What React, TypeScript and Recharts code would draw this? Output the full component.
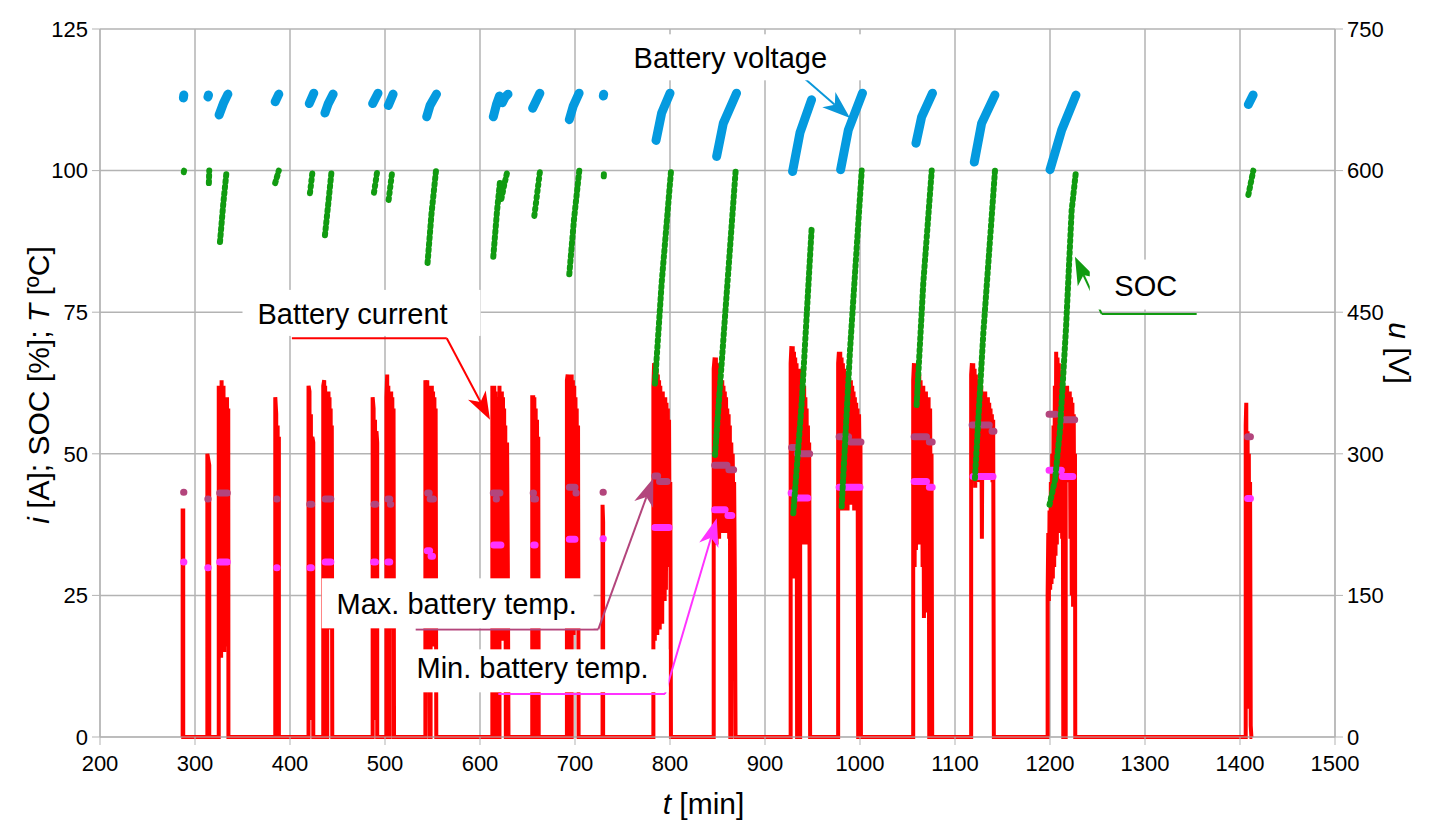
import React from "react";
import {
  ComposedChart,
  Line,
  XAxis,
  YAxis,
  CartesianGrid,
  ReferenceLine,
  ReferenceDot,
} from "recharts";

// t [min] ticks and the two value axes
const timeTicks = [200, 300, 400, 500, 600, 700, 800, 900, 1000, 1100, 1200, 1300, 1400, 1500];
const leftTicks = [0, 25, 50, 75, 100, 125];
const rightTicks = [0, 150, 300, 450, 600, 750];

// battery current i [A] as [t, i]
const currentPoints: [number, number][] = [
  [287, 0], [287, 40], [287.6, 40], [287.6, 0],
  [313, 0], [313, 50], [315, 48], [315, 0],
  [325, 0], [325, 62], [326, 60], [326.5, 16], [327, 62], [327.5, 14], [328, 63], [328.5, 20], [329, 62], [329.5, 16],
  [330, 62], [330.8, 15], [331.3, 60], [332, 18], [332.5, 60], [333.2, 16], [333.7, 60], [334.5, 20], [335, 58], [335.2, 0],
  [384.5, 0], [384.5, 60], [385.5, 57], [386, 3], [387, 55], [387.5, 3], [388.3, 53], [388.3, 0],
  [419.5, 0], [419.5, 62], [420.5, 61], [421, 3], [422, 57], [422.5, 3], [423.5, 53], [424.5, 52], [424.5, 0],
  [435, 0], [435, 62], [436, 63], [436.5, 20], [437, 62], [437.5, 18], [438, 61], [438.5, 0], [439.2, 0], [439.2, 61],
  [439.8, 20], [440.5, 61], [441, 19], [441.6, 60], [442.2, 20], [442.8, 58], [443.4, 19], [444, 55], [444.5, 0],
  [487, 0], [487, 60], [488, 58], [488.5, 3], [489.5, 56], [490, 3], [491, 54], [491.8, 52], [491.8, 0],
  [501.5, 0], [501.5, 60], [502.3, 64], [503, 20], [503.5, 62], [504, 0], [505, 0], [505, 61], [506, 20], [506.5, 61],
  [507.2, 19], [507.7, 60], [508.5, 20], [509, 58], [509.5, 0],
  [542.5, 0], [542.5, 63], [543.3, 62], [544, 17], [544.5, 63], [545.2, 16], [545.8, 62], [546.5, 17], [547, 0], [548, 0],
  [548, 62], [548.7, 16], [549.3, 62], [550, 17], [550.6, 61], [551.3, 16], [552, 60], [552.6, 18], [553.3, 58], [554, 0],
  [613, 0], [613, 62], [614, 60], [614.5, 17], [615, 62], [615.6, 17], [616.2, 61], [616.8, 0], [617.5, 0], [617.5, 60],
  [618.2, 16], [618.8, 58], [619.5, 0], [620.5, 0], [620.5, 62], [621.2, 17], [621.8, 61], [622.5, 18], [623, 61],
  [623.6, 17], [624.2, 60], [624.8, 18], [625.4, 58], [626, 17], [626.6, 55], [627.2, 0], [628.5, 0], [628.5, 52], [629.3, 30], [630, 0],
  [655, 0], [655, 60], [656, 60], [656.6, 18], [657.2, 60], [657.8, 0], [658.6, 0], [658.6, 58], [659.3, 20], [660, 56],
  [660.7, 18], [661.3, 53], [661.8, 0],
  [691.5, 0], [691.5, 63], [692.3, 64], [693, 20], [693.6, 63], [694.3, 18], [695, 62], [695.5, 0], [696.5, 0], [696.5, 64],
  [697.2, 20], [697.8, 63], [698.5, 18], [699.2, 62], [699.9, 20], [700.5, 60], [701.2, 19], [701.8, 58], [702.5, 20], [703.2, 55], [703.8, 0],
  [729, 0], [729, 41], [729.6, 38], [729.6, 0],
  [782.5, 0], [782.5, 62], [783.3, 66], [784, 17], [784.6, 66], [785.3, 20], [785.9, 65], [786.6, 18], [787.2, 64],
  [787.9, 20], [788.5, 63], [789.2, 19], [789.8, 62], [790.5, 22], [791.1, 61], [791.8, 20], [792.4, 61], [793.1, 25],
  [793.7, 60], [794.4, 24], [795, 60], [795.7, 26], [796.3, 59], [797, 30], [797.7, 58], [798.3, 30], [799, 56],
  [799.7, 30], [800.3, 45], [801, 0],
  [846, 0], [846, 65], [847, 67], [847.7, 35], [848.3, 67], [849, 34], [849.6, 66], [850.3, 36], [851, 66], [851.7, 35],
  [852.3, 65], [853, 37], [853.6, 64], [854.3, 36], [855, 63], [855.7, 38], [856.3, 62], [857, 36], [857.7, 61],
  [858.4, 38], [859, 60], [859.7, 37], [860.3, 58], [861, 36], [861.7, 57], [862.3, 35], [863, 55], [863.5, 0],
  [864.5, 0], [864.5, 52], [865.3, 40], [866, 50], [866.8, 38], [867.5, 45], [868.2, 30], [869, 0],
  [927, 0], [927, 66], [927.8, 69], [928.5, 28], [929.2, 69], [929.9, 30], [930.5, 68], [931.2, 28], [931.8, 67],
  [932.5, 30], [933.2, 66], [933.8, 0], [934.5, 0], [934.5, 60], [935.2, 20], [935.8, 0], [937, 0], [937, 65],
  [937.8, 35], [938.5, 64], [939.2, 34], [939.8, 63], [940.5, 35], [941.2, 62], [941.8, 34], [942.5, 60], [943.2, 36],
  [943.8, 58], [944.5, 34], [945.2, 55], [945.8, 35], [946.5, 52], [947.5, 0],
  [977, 0], [977, 66], [977.8, 68], [978.5, 40], [979.2, 68], [979.9, 42], [980.6, 67], [981.3, 40], [982, 66],
  [982.7, 42], [983.4, 65], [984.1, 40], [984.8, 64], [985.5, 42], [986.2, 64], [986.9, 40], [987.6, 63], [988.3, 42],
  [989, 63], [989.7, 41], [990.4, 63], [991.1, 42], [991.8, 62], [992.5, 42], [993.2, 61], [993.9, 40], [994.6, 60],
  [995.3, 42], [996, 59], [996.7, 40], [997.4, 58], [998.1, 0], [999, 0], [999, 57], [999.8, 45], [1000.5, 52], [1001, 0],
  [1056, 0], [1056, 63], [1056.8, 66], [1057.5, 30], [1058.2, 66], [1058.9, 33], [1059.6, 65], [1060.3, 35], [1061, 64],
  [1061.7, 36], [1062.4, 64], [1063.1, 34], [1063.8, 63], [1064.5, 36], [1065.2, 62], [1065.9, 30], [1066.6, 62],
  [1067.3, 21], [1068, 61], [1068.7, 35], [1069.4, 61], [1070.1, 22], [1070.8, 60], [1071.5, 36], [1072.2, 60],
  [1072.9, 0], [1073.8, 0], [1073.8, 58], [1074.6, 30], [1075.3, 50], [1076, 0],
  [1117, 0], [1117, 64], [1117.8, 66], [1118.5, 45], [1119.2, 66], [1119.9, 46], [1120.6, 65], [1121.3, 44], [1122, 64],
  [1122.7, 46], [1123.4, 63], [1124.1, 45], [1124.8, 63], [1125.5, 47], [1126.2, 62], [1126.9, 46], [1127.6, 62],
  [1128.3, 35], [1129, 61], [1129.7, 46], [1130.4, 61], [1131.1, 47], [1131.8, 61], [1132.5, 46], [1133.2, 60],
  [1133.9, 47], [1134.6, 60], [1135.3, 46], [1136, 59], [1136.7, 48], [1137.4, 58], [1138.1, 46], [1138.8, 57],
  [1139.5, 45], [1140.2, 56], [1140.9, 0],
  [1197.5, 0], [1197.5, 25], [1198.2, 36], [1198.8, 24], [1199.5, 40], [1200.2, 26], [1200.9, 45], [1201.6, 27],
  [1202.3, 50], [1203, 28], [1203.7, 55], [1204.4, 30], [1205.1, 62], [1205.8, 32], [1206.5, 68], [1207.2, 34],
  [1207.9, 67], [1208.6, 36], [1209.3, 66], [1210, 38], [1210.7, 64], [1211.4, 38], [1212.1, 60], [1212.8, 35],
  [1213.5, 50], [1214, 0], [1216.5, 0], [1216.5, 62], [1217.3, 45], [1218, 62], [1218.7, 48], [1219.4, 61], [1220.1, 48],
  [1220.8, 61], [1221.5, 35], [1222.2, 60], [1222.9, 25], [1223.6, 59], [1224.3, 23], [1225, 57], [1225.7, 24],
  [1226.3, 50], [1226.6, 0],
  [1406, 0], [1406, 55], [1406.6, 59], [1407.2, 5], [1408, 54], [1408.6, 5], [1409.3, 50], [1410, 5], [1410.6, 45],
  [1411.3, 2], [1412, 0], [1413, 0],
];

// battery voltage u [V], one list per recorded stretch
const voltageArcs: [number, number][][] = [
  [[287.8, 677], [288.2, 680]],
  [[313.6, 678], [314.2, 680]],
  [[325.4, 659], [329.8, 671], [334.6, 681]],
  [[384.4, 673], [388.2, 681]],
  [[420.3, 671], [425, 682]],
  [[436.8, 661], [440.3, 671], [445.4, 681]],
  [[487, 671], [492.6, 682]],
  [[503.5, 669], [508.5, 681]],
  [[543.9, 657], [547.4, 669], [554.2, 681]],
  [[614, 657], [617.3, 670], [620.5, 679]],
  [[623.5, 672], [626.5, 678], [629.5, 681]],
  [[655.4, 666], [663, 682]],
  [[694, 654], [698, 668], [704.3, 682]],
  [[729.8, 679], [730.2, 681]],
  [[785.3, 632], [791.2, 661], [800, 682]],
  [[849.1, 615], [856.1, 650], [870, 682]],
  [[929, 599], [936.8, 640], [949, 675]],
  [[979.6, 601], [987.7, 643], [1002.6, 682]],
  [[1058.9, 629], [1064.9, 657], [1076.3, 682]],
  [[1120.3, 609], [1128, 650], [1142, 680]],
  [[1200, 601], [1212.3, 643], [1227.3, 680]],
  [[1408.8, 670], [1413.8, 680]],
];

// state of charge SOC [%]
const socArcs: [number, number][][] = [
  [[288.2, 99.7], [288.5, 100]],
  [[314.6, 97.8], [315, 100]],
  [[326.3, 87.4], [329.8, 94.2], [333.3, 100]],
  [[384.4, 97.8], [388.2, 100]],
  [[421, 96], [423.8, 100]],
  [[436.8, 88.6], [440.3, 94.2], [443.8, 100]],
  [[488.4, 96.1], [491.9, 100]],
  [[503.8, 94.8], [507.7, 100]],
  [[544.8, 83.7], [549, 92.5], [553.7, 100]],
  [[614, 84.8], [618, 93], [621, 98]],
  [[622.5, 95], [625.5, 97.5], [629, 100]],
  [[657.2, 92], [663.2, 100]],
  [[694, 81.7], [698.9, 91.3], [704.5, 100]],
  [[730.3, 99], [730.6, 100]],
  [[784.2, 62.4], [791.2, 80.1], [801.1, 100]],
  [[847.4, 49.8], [857.9, 74.2], [869.1, 100]],
  [[929.8, 39.5], [938.6, 58.9], [949.1, 89.8]],
  [[980.7, 40.7], [989.5, 68.3], [1001.8, 100]],
  [[1059.6, 58.6], [1066.6, 80.1], [1075.5, 100]],
  [[1121, 45.7], [1129.8, 71.3], [1142.1, 100]],
  [[1199.5, 41], [1205.3, 45.4], [1210.5, 54.2], [1216.8, 72], [1222.8, 93], [1227.4, 100]],
  [[1408.8, 95.7], [1414, 100]],
];

// max. battery temperature T [ºC]
const maxTempSegs: [number, number][][] = [
  [[288, 43.2], [288.3, 43.2]],
  [[313.5, 42], [313.8, 42]],
  [[326, 43.1], [334, 43.1]],
  [[386, 42], [386.3, 42]],
  [[420.8, 41.1], [422.8, 41.1]],
  [[437, 42], [443, 42]],
  [[488.5, 41.1], [490.2, 41.1]],
  [[503, 42], [505, 42]],
  [[505.7, 41.1], [506, 41.1]],
  [[545, 43.1], [546.5, 43.1]],
  [[547.5, 42], [551, 42]],
  [[614, 43.1], [621, 43.1]],
  [[617, 42], [617.3, 42]],
  [[656, 43.1], [656.3, 43.1]],
  [[656.5, 42], [658.5, 42]],
  [[694, 44.1], [700, 44.1]],
  [[701, 43.1], [701.3, 43.1]],
  [[729.5, 43.2], [729.8, 43.2]],
  [[784, 46.1], [787, 46.1]],
  [[789, 45.1], [797, 45.1]],
  [[847, 48], [860, 48]],
  [[862, 47.2], [867, 47.2]],
  [[928, 51.1], [931, 51.1]],
  [[934, 50], [947, 50]],
  [[978, 53], [988, 53]],
  [[990, 52.1], [1001, 52.1]],
  [[1057, 53], [1070, 53]],
  [[1073, 52.1], [1076, 52.1]],
  [[1118, 55.1], [1136, 55.1]],
  [[1139, 54], [1141, 54]],
  [[1199, 57], [1206, 57]],
  [[1214, 56], [1226, 56]],
  [[1408, 53], [1411, 53]],
];

// min. battery temperature T [ºC]
const minTempSegs: [number, number][][] = [
  [[288, 30.9], [288.3, 30.9]],
  [[313.5, 29.9], [313.8, 29.9]],
  [[326, 30.9], [334, 30.9]],
  [[386, 29.9], [386.3, 29.9]],
  [[421, 29.9], [422.5, 29.9]],
  [[437, 30.9], [443, 30.9]],
  [[488, 30.9], [490, 30.9]],
  [[503, 30.9], [505, 30.9]],
  [[544.5, 32.9], [547, 32.9]],
  [[548.5, 31.9], [550, 31.9]],
  [[614.5, 33.9], [622, 33.9]],
  [[656.5, 33.9], [658, 33.9]],
  [[694, 34.9], [700, 34.9]],
  [[729.5, 35], [729.8, 35]],
  [[784, 37], [799, 37]],
  [[847, 40.1], [858, 40.1]],
  [[861, 39.1], [865, 39.1]],
  [[927.5, 43.1], [927.8, 43.1]],
  [[932, 42.2], [945, 42.2]],
  [[978, 44.1], [1000, 44.1]],
  [[1057, 45.1], [1070, 45.1]],
  [[1073, 44.1], [1076, 44.1]],
  [[1119, 46], [1140, 46]],
  [[1199, 47.1], [1203, 47.1]],
  [[1210, 47.1], [1212, 47.1]],
  [[1213, 46], [1224, 46]],
  [[1408, 42.1], [1411, 42.1]],
];

// callouts: text anchor, leader start, elbow and arrow tip, all in (t, left-axis value)
const callouts = [
  { text: "Battery current", color: "#ff0000", at: [465.8, 74.7], box: [-110, 128, -24, 22], start: [402, 70.4], elbow: [565, 70.4], tip: [610.5, 56] },
  { text: "Battery voltage", color: "#0a97d9", at: [863.5, 120], box: [-115, 135, -23, 23], start: [779, 116.2], elbow: [942, 116.2], tip: [989.5, 109.3] },
  { text: "SOC", color: "#119b11", at: [1300.8, 79.7], box: [-56, 54, -26, 24], start: [1354.4, 74.7], elbow: [1254.4, 74.7], tip: [1226.3, 84.8] },
  { text: "Max. battery temp.", color: "#b3457c", at: [575.4, 23.6], box: [-135, 137, -25, 25], start: [532.3, 19], elbow: [724.5, 19], tip: [782.4, 45.7] },
  { text: "Min. battery temp.", color: "#ff33ff", at: [655.3, 12.3], box: [-126, 136, -18, 25], start: [619.3, 7.6], elbow: [794.7, 7.6], tip: [849.2, 38.6] },
];

const FONT = "'Liberation Sans', Arial, sans-serif";
const GRID = "#b3b3b3";

function toSegments(segs: [number, number][][], key: string) {
  const out: Record<string, number | null>[] = [];
  segs.forEach((seg) => {
    seg.forEach(([t, v]) => out.push({ t, [key]: v }));
    out.push({ t: seg[seg.length - 1][0], [key]: null });
  });
  return out;
}

const currentData = currentPoints.map(([t, i]) => ({ t, i }));
const voltageData = toSegments(voltageArcs, "u");
const socData = toSegments(socArcs, "soc");
const maxTempData = toSegments(maxTempSegs, "tmax");
const minTempData = toSegments(minTempSegs, "tmin");

function arrowShape(color: string) {
  return (p: any) => {
    const { x1, y1, x2, y2 } = p;
    const a = Math.atan2(y2 - y1, x2 - x1);
    const len = 28;
    const half = 10;
    const cos = Math.cos(a);
    const sin = Math.sin(a);
    const bx = x2 - len * cos;
    const by = y2 - len * sin;
    const nx = x2 - len * 0.72 * cos;
    const ny = y2 - len * 0.72 * sin;
    const pts = [
      `${x2},${y2}`,
      `${bx - half * sin},${by + half * cos}`,
      `${nx},${ny}`,
      `${bx + half * sin},${by - half * cos}`,
    ].join(" ");
    return (
      <g>
        <line x1={x1} y1={y1} x2={nx} y2={ny} stroke={color} strokeWidth={2} />
        <polygon points={pts} fill={color} />
      </g>
    );
  };
}

function calloutLabel(text: string, box: number[]) {
  return (p: any) => {
    const { cx, cy } = p;
    return (
      <g>
        <rect x={cx + box[0]} y={cy + box[2]} width={box[1] - box[0]} height={box[3] - box[2]} fill="#ffffff" />
        <text x={cx} y={cy} dy="0.36em" textAnchor="middle" fontFamily={FONT} fontSize={29} fill="#000">
          {text}
        </text>
      </g>
    );
  };
}

export default function App() {
  return (
    <div style={{ position: "absolute", left: 0, top: 0, background: "#fff" }}>
      <ComposedChart
        width={1437}
        height={837}
        margin={{ top: 29, right: 20, bottom: 40, left: 20 }}
      >
        <CartesianGrid yAxisId="left" stroke={GRID} strokeWidth={1.5} />
        <XAxis
          type="number"
          dataKey="t"
          domain={[200, 1500]}
          ticks={timeTicks}
          allowDataOverflow
          height={60}
          stroke={GRID}
          tickSize={8}
          tickMargin={10}
          tick={{ fill: "#000", fontSize: 22, fontFamily: FONT }}
          label={{
            content: (props: any) => {
              const vb = props.viewBox;
              return (
                <text x={vb.x + vb.width / 2 - 14} y={vb.y + 66} dy="0.36em" textAnchor="middle" fontFamily={FONT} fontSize={30} fill="#000">
                  <tspan fontStyle="italic">t</tspan> [min]
                </text>
              );
            },
          }}
        />
        <YAxis
          yAxisId="left"
          domain={[0, 125]}
          ticks={leftTicks}
          width={80}
          stroke={GRID}
          tickSize={8}
          tickMargin={4}
          tick={{ fill: "#000", fontSize: 22, fontFamily: FONT }}
          label={{
            content: (props: any) => {
              const vb = props.viewBox;
              const cx = vb.x + 18;
              const cy = vb.y + vb.height / 2 + 2;
              return (
                <text x={cx} y={cy} dy="0.36em" transform={`rotate(-90 ${cx} ${cy})`} textAnchor="middle" fontFamily={FONT} fontSize={30} fill="#000">
                  <tspan fontStyle="italic">i</tspan> [A]; SOC [%]; <tspan fontStyle="italic">T</tspan> [ºC]
                </text>
              );
            },
          }}
        />
        <YAxis
          yAxisId="right"
          orientation="right"
          domain={[0, 750]}
          ticks={rightTicks}
          width={82}
          stroke={GRID}
          tickSize={8}
          tickMargin={4}
          tick={{ fill: "#000", fontSize: 22, fontFamily: FONT }}
          label={{
            content: (props: any) => {
              const vb = props.viewBox;
              const cx = vb.x + 65;
              const cy = vb.y + vb.height / 2 - 30;
              return (
                <text x={cx} y={cy} dy="0.36em" transform={`rotate(90 ${cx} ${cy})`} textAnchor="middle" fontFamily={FONT} fontSize={30} fill="#000">
                  <tspan fontStyle="italic">u</tspan> [V]
                </text>
              );
            },
          }}
        />

        <Line
          yAxisId="left"
          data={currentData}
          dataKey="i"
          type="linear"
          stroke="#ff0000"
          strokeWidth={4}
          dot={false}
          activeDot={false}
          isAnimationActive={false}
        />
        <Line
          yAxisId="left"
          data={maxTempData}
          dataKey="tmax"
          type="linear"
          stroke="#b3457c"
          strokeWidth={7}
          strokeLinecap="round"
          dot={false}
          activeDot={false}
          isAnimationActive={false}
        />
        <Line
          yAxisId="left"
          data={minTempData}
          dataKey="tmin"
          type="linear"
          stroke="#ff33ff"
          strokeWidth={7}
          strokeLinecap="round"
          dot={false}
          activeDot={false}
          isAnimationActive={false}
        />
        <Line
          yAxisId="right"
          data={voltageData}
          dataKey="u"
          type="linear"
          stroke="#049adf"
          strokeWidth={9}
          strokeLinecap="round"
          strokeLinejoin="round"
          dot={false}
          activeDot={false}
          isAnimationActive={false}
        />
        <Line
          yAxisId="left"
          data={socData}
          dataKey="soc"
          type="linear"
          stroke="#119b11"
          strokeWidth={6}
          strokeLinecap="round"
          strokeDasharray="2 4"
          dot={false}
          activeDot={false}
          isAnimationActive={false}
        />

        {callouts.map((c) => (
          <ReferenceLine
            key={c.text + "-h"}
            yAxisId="left"
            segment={[{ x: c.start[0], y: c.start[1] }, { x: c.elbow[0], y: c.elbow[1] }]}
            stroke={c.color}
            strokeWidth={2}
          />
        ))}
        {callouts.map((c) => (
          <ReferenceLine
            key={c.text + "-a"}
            yAxisId="left"
            segment={[{ x: c.elbow[0], y: c.elbow[1] }, { x: c.tip[0], y: c.tip[1] }]}
            shape={arrowShape(c.color)}
          />
        ))}
        {callouts.map((c) => (
          <ReferenceDot
            key={c.text + "-l"}
            yAxisId="left"
            x={c.at[0]}
            y={c.at[1]}
            r={1}
            shape={calloutLabel(c.text, c.box)}
          />
        ))}
      </ComposedChart>
    </div>
  );
}
